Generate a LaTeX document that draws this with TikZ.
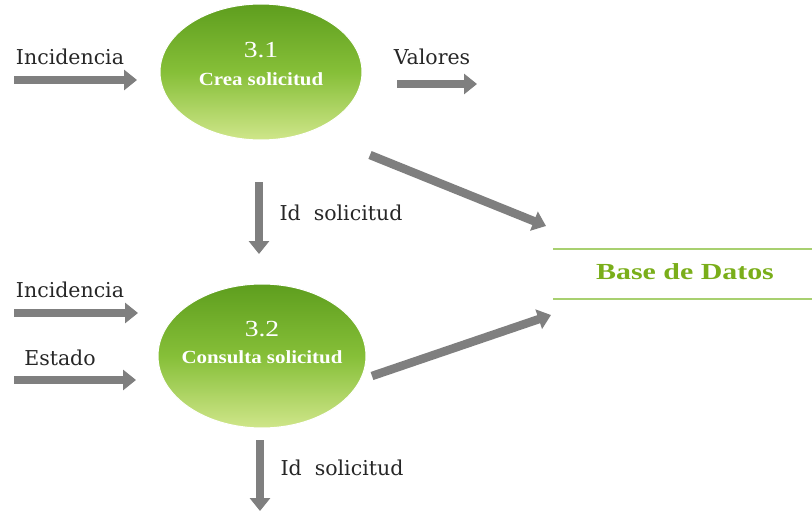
\documentclass[tikz,border=0pt]{standalone}
\usepackage{fontspec}
\setmainfont{Liberation Serif}
\newfontfamily\labelfont{DejaVu Serif}
\usetikzlibrary{arrows.meta,shapes.geometric,shadings}
\definecolor{flowgray}{HTML}{7F7F7F}
\definecolor{procdark}{HTML}{5E9E1E}
\definecolor{procmid}{HTML}{86BF38}
\definecolor{proclight}{HTML}{CFE68A}
\definecolor{dbgreen}{HTML}{7AAE1A}
\definecolor{dbline}{HTML}{A8D070}
\tikzset{
  x=1pt, y=-1pt,
  flow/.style={draw=flowgray, line width=8.5pt,
    -{Triangle[width=20pt,length=13pt]}},
  process/.style={ellipse, minimum width=202pt, minimum height=136pt,
    top color=procdark, bottom color=proclight, middle color=procmid,
    draw=white, line width=1pt, inner sep=0pt},
  procnum/.style={text=white, inner sep=0pt,
    font=\fontsize{23}{26}\selectfont, xscale=1.2},
  procname/.style={text=white, inner sep=0pt,
    font=\bfseries\fontsize{18.5}{22}\selectfont, xscale=1.13},
  flowlabel/.style={font=\labelfont\fontsize{20.5}{24}\selectfont, text=black!85, inner sep=0pt},
}
\begin{document}
\begin{tikzpicture}
\useasboundingbox (0,0) rectangle (812,511);

% processes
\node[process] (p1) at (261,72) {};
\node[procnum] (p1num) at ([yshift=22pt]p1.center) {3.1};
\node[procname] (p1name) at ([yshift=-7pt]p1.center) {Crea solicitud};
\node[process, minimum width=208pt, minimum height=144pt] (p2) at (262,356) {};
\node[procnum] (p2num) at ([yshift=27pt]p2.center) {3.2};
\node[procname] (p2name) at ([yshift=-1pt]p2.center) {Consulta solicitud};

% data store
\coordinate (dbtl) at (553,249);
\coordinate (dbtr) at (812,249);
\coordinate (dbbl) at (553,299);
\coordinate (dbbr) at (812,299);
\draw[dbline, line width=1.5pt] (dbtl) -- (dbtr);
\draw[dbline, line width=1.5pt] (dbbl) -- (dbbr);
\node[text=dbgreen, inner sep=0pt, xscale=1.3,
  font=\bfseries\fontsize{23}{26}\selectfont] (db) at (685,272) {Base de Datos};

% flow end points
\coordinate (i1s) at (14,80);   \coordinate (i1e) at (137,80);
\coordinate (vs)  at (397,84);  \coordinate (ve)  at (477,84);
\coordinate (d1s) at (370,155); \coordinate (d1e) at (546,226);
\coordinate (id1s) at (259,182); \coordinate (id1e) at (259,254);
\coordinate (i2s) at (14,313);  \coordinate (i2e) at (138,313);
\coordinate (es)  at (14,380);  \coordinate (ee)  at (136,380);
\coordinate (d2s) at (372,376); \coordinate (d2e) at (551,315);
\coordinate (id2s) at (260,440); \coordinate (id2e) at (260,511);

\draw[flow] (i1s) -- (i1e);
\draw[flow] (vs) -- (ve);
\draw[flow] (d1s) -- (d1e);
\draw[flow] (id1s) -- (id1e);
\draw[flow] (i2s) -- (i2e);
\draw[flow] (es) -- (ee);
\draw[flow] (d2s) -- (d2e);
\draw[flow] (id2s) -- (id2e);

% flow labels
\node[flowlabel] (l1) at (70,57) {Incidencia};
\node[flowlabel] (l2) at (432,57) {Valores};
\node[flowlabel] (l3) at (341,213) {Id\ \ solicitud};
\node[flowlabel] (l4) at (70,290) {Incidencia};
\node[flowlabel] (l5) at (60,358) {Estado};
\node[flowlabel] (l6) at (342,468) {Id\ \ solicitud};
\end{tikzpicture}
\end{document}
